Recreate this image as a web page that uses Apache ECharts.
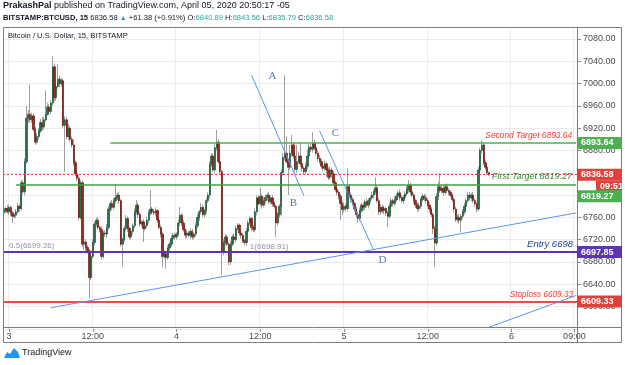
<!DOCTYPE html>
<html>
<head>
<meta charset="utf-8">
<title>BTCUSD 15</title>
<script src="https://cdn.jsdelivr.net/npm/echarts@6/dist/echarts.min.js"></script>
<style>
html, body { margin: 0; padding: 0; background: #fff; }
#chart { width: 625px; height: 365px; }
</style>
</head>
<body>
<div id="chart"></div>
<script>
var FONT = '"Liberation Sans", Arial, sans-serif';

// 15 min slots on the x axis, slot 0 = Apr 2 23:15
var slotCount = 329;
var firstOpen = 6768;

// closing prices (one per 15 min candle)
var closes = [
    6772, 6776, 6770, 6778, 6768, 6762, 6764, 6770, 6780, 6776,
    6822, 6806, 6860, 6938, 6945, 6935, 6942, 6918, 6895, 6905,
    6915, 6930, 6922, 6935, 6945, 6958, 6950, 6965, 7030, 6975,
    6995, 7008, 7000, 7005, 6925, 6935, 6905, 6920, 6900, 6890,
    6858, 6838, 6830, 6760, 6822, 6712, 6716, 6706, 6700, 6652,
    6690, 6715, 6748, 6755, 6742, 6738, 6690, 6732, 6730, 6742,
    6775, 6785, 6778, 6790, 6795, 6800, 6790, 6712, 6720, 6740,
    6758, 6740, 6725, 6735, 6745, 6770, 6782, 6765, 6748, 6752,
    6740, 6745, 6755, 6768, 6775, 6770, 6768, 6772, 6755, 6742,
    6730, 6690, 6695, 6688, 6705, 6712, 6722, 6728, 6725, 6730,
    6750, 6764, 6750, 6738, 6728, 6732, 6728, 6735, 6725, 6730,
    6745, 6760, 6770, 6778, 6765, 6772, 6790, 6800, 6855, 6870,
    6845, 6885, 6895, 6860, 6842, 6698, 6715, 6725, 6712, 6680,
    6712, 6725, 6720, 6740, 6746, 6732, 6728, 6718, 6715, 6735,
    6750, 6758, 6742, 6738, 6770, 6795, 6785, 6798, 6782, 6790,
    6796, 6800, 6788, 6795, 6785, 6780, 6750, 6765, 6780, 6840,
    6868, 6875, 6860, 6850, 6875, 6890, 6870, 6846, 6860, 6870,
    6856, 6848, 6842, 6852, 6870, 6886, 6882, 6893, 6885, 6875,
    6866, 6860, 6852, 6848, 6856, 6845, 6832, 6845, 6838, 6822,
    6810, 6805, 6798, 6785, 6774, 6780, 6776, 6815, 6800, 6792,
    6785, 6775, 6765, 6758, 6772, 6782, 6778, 6788, 6782, 6790,
    6795, 6800, 6806, 6813, 6790, 6770, 6778, 6772, 6776, 6768,
    6762, 6780, 6790, 6785, 6792, 6798, 6804, 6795, 6790, 6796,
    6802, 6810, 6818, 6806, 6800, 6790, 6782, 6776, 6780, 6792,
    6798, 6795, 6790, 6782, 6775, 6765, 6740, 6714, 6797, 6815,
    6808, 6812, 6805, 6815, 6808, 6805, 6800, 6792, 6775, 6756,
    6760, 6755, 6762, 6770, 6780, 6790, 6800, 6795, 6800, 6790,
    6784, 6775, 6845, 6880, 6890, 6858, 6850, 6840, 6836.58
];
// wick length above the body top / below the body bottom
var upperWicks = [
    4, 3, 6, 5, 3, 4, 3, 5, 6, 4,
    5, 4, 6, 22, 8, 53, 6, 5, 4, 6,
    5, 7, 10, 6, 43, 8, 5, 6, 20, 6,
    5, 27, 6, 5, 4, 6, 5, 8, 4, 5,
    10, 4, 5, 6, 5, 4, 6, 5, 4, 3,
    5, 6, 5, 4, 5, 3, 6, 4, 5, 6,
    5, 4, 6, 5, 25, 4, 5, 3, 4, 5,
    6, 4, 3, 5, 4, 6, 9, 4, 5, 3,
    5, 4, 6, 5, 34, 4, 5, 6, 3, 4,
    5, 4, 6, 3, 5, 4, 6, 4, 5, 3,
    6, 15, 4, 5, 3, 6, 4, 5, 4, 3,
    5, 6, 4, 8, 5, 4, 6, 5, 6, 5,
    4, 6, 22, 5, 4, 3, 6, 5, 4, 3,
    5, 4, 6, 5, 4, 3, 5, 4, 3, 6,
    5, 4, 3, 5, 6, 4, 5, 15, 4, 6,
    5, 4, 6, 3, 5, 4, 3, 5, 4, 6,
    8, 140, 30, 6, 15, 18, 5, 6, 30, 8,
    25, 5, 4, 6, 12, 6, 5, 20, 6, 4,
    5, 6, 4, 5, 6, 4, 5, 6, 4, 5,
    4, 5, 3, 4, 5, 6, 4, 33, 5, 4,
    5, 3, 4, 5, 6, 4, 5, 4, 6, 5,
    4, 6, 5, 19, 4, 5, 6, 4, 5, 3,
    4, 6, 5, 4, 6, 5, 4, 6, 5, 4,
    5, 6, 9, 4, 5, 3, 4, 5, 6, 4,
    5, 4, 6, 4, 5, 3, 4, 5, 6, 8,
    25, 6, 5, 4, 6, 5, 4, 3, 5, 4,
    5, 6, 4, 5, 6, 4, 5, 6, 4, 5,
    4, 3, 6, 5, 9, 5, 6, 4, 2
];
var lowerWicks = [
    4, 5, 3, 6, 6, 12, 4, 5, 3, 6,
    4, 5, 6, 4, 8, 5, 6, 4, 5, 3,
    5, 4, 6, 5, 4, 3, 6, 5, 4, 6,
    5, 4, 6, 5, 4, 84, 5, 6, 4, 5,
    6, 4, 5, 6, 4, 5, 10, 6, 5, 37,
    5, 4, 6, 5, 4, 5, 6, 4, 5, 6,
    4, 5, 6, 4, 5, 4, 6, 5, 40, 4,
    5, 6, 4, 5, 6, 4, 5, 6, 4, 5,
    24, 4, 5, 6, 4, 5, 4, 6, 5, 4,
    6, 20, 5, 20, 4, 6, 5, 4, 6, 5,
    4, 6, 5, 4, 6, 5, 4, 6, 5, 4,
    5, 4, 6, 5, 4, 6, 5, 4, 6, 5,
    4, 5, 6, 4, 5, 41, 6, 5, 4, 6,
    5, 4, 6, 5, 4, 5, 6, 4, 5, 6,
    4, 5, 6, 4, 5, 6, 4, 5, 6, 4,
    5, 6, 4, 5, 6, 4, 25, 5, 6, 18,
    5, 6, 4, 50, 5, 6, 4, 5, 6, 4,
    5, 6, 4, 5, 6, 4, 5, 6, 4, 5,
    6, 4, 5, 6, 4, 12, 5, 4, 6, 5,
    4, 5, 6, 30, 10, 5, 6, 4, 5, 6,
    4, 5, 6, 8, 5, 4, 6, 5, 4, 6,
    5, 4, 6, 5, 4, 6, 5, 4, 6, 5,
    19, 5, 4, 6, 5, 4, 6, 5, 4, 6,
    5, 4, 6, 5, 4, 6, 5, 4, 6, 5,
    4, 6, 5, 4, 6, 5, 10, 43, 5, 6,
    4, 5, 6, 4, 5, 6, 4, 5, 6, 4,
    5, 6, 22, 4, 5, 6, 4, 5, 6, 4,
    5, 6, 4, 5, 6, 4, 5, 4, 2
];

var timeLabelSlots = [3, 51, 99, 147, 195, 243, 291, 327];
var timeLabelText = ['3', '12:00', '4', '12:00', '5', '12:00', '6', '09:00'];

var priceMin = 6560;
var priceMax = 7101.5;
var priceStep = 40;

var secondTarget = 6893.64;
var firstTarget = 6819.27;
var entryLevel = 6697.85;
var stopLoss = 6609.33;
var lastPrice = 6836.58;
var countdown = '09:51';

// drawn trend lines, [slot, price] pairs
var trendLines = [
    [[27, 6598], [328, 6768]],
    [[142, 7015], [172, 6799]],
    [[181, 6915], [212, 6701]],
    [[278, 6563], [328, 6620]]
];
var waveLabels = [['A', 154, 7013], ['B', 166, 6786], ['C', 190, 6911], ['D', 217, 6684]];
var fibLabels = [['0.5(6699.26)', 3, 6699.26], ['1(6698.91)', 141, 6698.91]];

var quoteOHLC = ['6840.89', '6843.56', '6835.79', '6836.58'];
var quoteChange = '+61.38 (+0.91%)';

function pad(n) { return n < 10 ? '0' + n : '' + n; }

var categories = [];
var t0 = Date.UTC(2020, 3, 2, 23, 15);
for (var i = 0; i < slotCount; i++) {
    var d = new Date(t0 + i * 900000);
    categories.push(d.getUTCDate() + ' ' + pad(d.getUTCHours()) + ':' + pad(d.getUTCMinutes()));
}

var candles = [], bodies = [];
var prev = firstOpen;
for (var k = 0; k < closes.length; k++) {
    var o = prev, c = closes[k];
    var hi = Math.max(o, c), lo = Math.min(o, c);
    candles.push([o, c, lo - lowerWicks[k], hi + upperWicks[k]]);
    bodies.push([o, c, lo, hi]);
    prev = c;
}

function isLabelSlot(idx) { return timeLabelSlots.indexOf(idx) >= 0; }

function levelLabel(text, color, size) {
    return {
        show: true, position: 'insideEndTop', formatter: text, color: color,
        fontStyle: 'italic', fontSize: size, fontFamily: FONT, distance: [4, 3]
    };
}

var levelLines = [
    [{ coord: [61, secondTarget], lineStyle: { color: '#4caf50', width: 1.5, type: 'solid' },
       label: levelLabel('Second Target ' + secondTarget, '#f23b30', 8.4) }, { coord: [328, secondTarget] }],
    [{ coord: [7, firstTarget], lineStyle: { color: '#43a047', width: 1.5, type: 'solid' },
       label: levelLabel('First Target ' + firstTarget, '#2e8b35', 9) }, { coord: [328, firstTarget] }],
    { yAxis: lastPrice, lineStyle: { color: '#ff3b30', width: 1, type: [2, 2] }, label: { show: false } },
    { yAxis: entryLevel, lineStyle: { color: '#5b35b5', width: 2, type: 'solid' },
      label: levelLabel('Entry 6698', '#1d3a9a', 9.5) },
    { yAxis: stopLoss, lineStyle: { color: '#ef4a45', width: 2, type: 'solid' },
      label: levelLabel('Stoploss ' + stopLoss, '#f23b30', 8.2) }
];
trendLines.forEach(function (t) {
    levelLines.push([{ coord: t[0], lineStyle: { color: '#5a96ee', width: 1, type: 'solid' }, label: { show: false } },
                     { coord: t[1] }]);
});

var chart = echarts.init(document.getElementById('chart'));

chart.setOption({
    animation: false,
    backgroundColor: '#ffffff',
    grid: { left: 3, right: 48, top: 27, bottom: 36.1 },
    xAxis: {
        type: 'category', data: categories, boundaryGap: true,
        axisLine: { show: false },
        axisTick: { show: true, alignWithLabel: true, length: 3, interval: isLabelSlot, lineStyle: { color: '#888' } },
        axisLabel: {
            interval: isLabelSlot, margin: 3, fontSize: 9, color: '#4a4a4a', fontFamily: FONT,
            formatter: function (v, idx) { return timeLabelText[timeLabelSlots.indexOf(idx)]; }
        },
        splitLine: { show: true, interval: isLabelSlot, lineStyle: { color: '#ebebeb' } }
    },
    yAxis: {
        type: 'value', position: 'right', min: priceMin, max: priceMax, interval: priceStep,
        axisLine: { show: false },
        axisTick: { show: true, length: 4, lineStyle: { color: '#888' } },
        axisLabel: {
            showMinLabel: false, showMaxLabel: false, margin: 6, fontSize: 9, color: '#4a4a4a', fontFamily: FONT,
            formatter: function (v) { return v.toFixed(2); }
        },
        splitLine: { lineStyle: { color: '#ebebeb' } }
    },
    series: [
        {
            name: 'wicks', type: 'candlestick', data: candles, barWidth: 1, silent: true,
            itemStyle: { color: '#a0a0a0', color0: '#a0a0a0', borderColor: '#a0a0a0', borderColor0: '#a0a0a0', borderWidth: 1 }
        },
        {
            name: 'bodies', type: 'candlestick', data: bodies, barWidth: 1.8, silent: true,
            itemStyle: { color: '#2a7449', color0: '#a3261b', borderColor: '#1c5434', borderColor0: '#6e1710', borderWidth: 0.7 }
        },
        {
            name: 'levels', type: 'line', data: [], silent: true, z: 5,
            markLine: { symbol: ['none', 'none'], silent: true, animation: false, data: levelLines }
        },
        {
            name: 'waves', type: 'scatter', symbolSize: 0, silent: true, z: 6,
            data: waveLabels.map(function (w) { return [w[1], w[2], w[0]]; }),
            label: {
                show: true, position: 'inside', color: '#2d56a8', fontSize: 11, fontFamily: '"Liberation Serif", serif',
                formatter: function (p) { return p.data[2]; }
            }
        },
        {
            name: 'fib', type: 'scatter', symbolSize: 0, silent: true, z: 6,
            data: fibLabels.map(function (f) { return [f[1], f[2], f[0]]; }),
            label: {
                show: true, position: 'right', distance: 0, offset: [0, -5], color: '#7a7196', fontSize: 8, fontFamily: FONT,
                formatter: function (p) { return p.data[2]; }
            }
        }
    ]
});

function py(v) { return chart.convertToPixel({ yAxisIndex: 0 }, v); }

function priceTag(y, text, color, x, w) {
    return [
        { type: 'rect', z: 100, shape: { x: x, y: y - 6, width: w, height: 12 }, style: { fill: color } },
        { type: 'text', z: 101, x: x + 4, y: y,
          style: { text: text, fill: '#ffffff', font: 'bold 9px ' + FONT, verticalAlign: 'middle' } }
    ];
}

var g = [];
// pane frame
g.push({ type: 'rect', z: 90, shape: { x: 3.5, y: 27.5, width: 618, height: 315 }, style: { fill: 'none', stroke: '#7d7d7d', lineWidth: 1 } });
g.push({ type: 'line', z: 90, shape: { x1: 577.5, y1: 27, x2: 577.5, y2: 343 }, style: { stroke: '#7d7d7d', lineWidth: 1 } });
g.push({ type: 'line', z: 90, shape: { x1: 3, y1: 327.5, x2: 622, y2: 327.5 }, style: { stroke: '#7d7d7d', lineWidth: 1 } });

// header
g.push({ type: 'text', z: 100, x: 3, y: 6, style: {
    text: '{b|PrakashPal} published on TradingView.com, April 05, 2020 20:50:17 -05',
    font: '9px ' + FONT, fill: '#131722', verticalAlign: 'middle',
    rich: { b: { fontWeight: 'bold', fontSize: 9, fontFamily: FONT, fill: '#131722' } }
} });
g.push({ type: 'text', z: 100, x: 3, y: 18, style: {
    text: '{b|BITSTAMP:BTCUSD, 15} ' + lastPrice.toFixed(2) + ' {g|\u25B2} ' + quoteChange +
          ' O:{t|' + quoteOHLC[0] + '} H:{t|' + quoteOHLC[1] + '} L:{t|' + quoteOHLC[2] + '} C:{t|' + quoteOHLC[3] + '}',
    font: '7.6px ' + FONT, fill: '#131722', verticalAlign: 'middle',
    rich: {
        b: { fontWeight: 'bold', fontSize: 7.6, fontFamily: FONT, fill: '#131722' },
        g: { fontSize: 7, fontFamily: FONT, fill: '#26a69a' },
        t: { fontSize: 7.6, fontFamily: FONT, fill: '#26a69a' }
    }
} });
g.push({ type: 'text', z: 100, x: 8, y: 36, style: {
    text: 'Bitcoin / U.S. Dollar, 15, BITSTAMP', font: '7.6px ' + FONT, fill: '#131722', verticalAlign: 'middle'
} });

// price tags on the axis
g = g.concat(priceTag(py(secondTarget), secondTarget.toFixed(2), '#4caf50', 577, 45));
g = g.concat(priceTag(py(lastPrice), lastPrice.toFixed(2), '#e0413a', 577, 45));
g = g.concat(priceTag(py(lastPrice) + 12, countdown, '#e0413a', 596, 26));
g = g.concat(priceTag(py(firstTarget) + 12, firstTarget.toFixed(2), '#4caf50', 577, 45));
g = g.concat(priceTag(py(entryLevel), entryLevel.toFixed(2), '#5b35b5', 577, 45));
g = g.concat(priceTag(py(stopLoss), stopLoss.toFixed(2), '#e0413a', 577, 45));

// footer logo
g.push({ type: 'polygon', z: 100, shape: { points: [[4, 358], [7, 352], [10, 354], [14, 348], [18, 352], [20, 358]] }, style: { fill: '#2196f3' } });
g.push({ type: 'text', z: 100, x: 22, y: 353, style: {
    text: 'TradingView', font: '9px ' + FONT, fill: '#131722', verticalAlign: 'middle'
} });

chart.setOption({ graphic: g });
</script>
</body>
</html>
